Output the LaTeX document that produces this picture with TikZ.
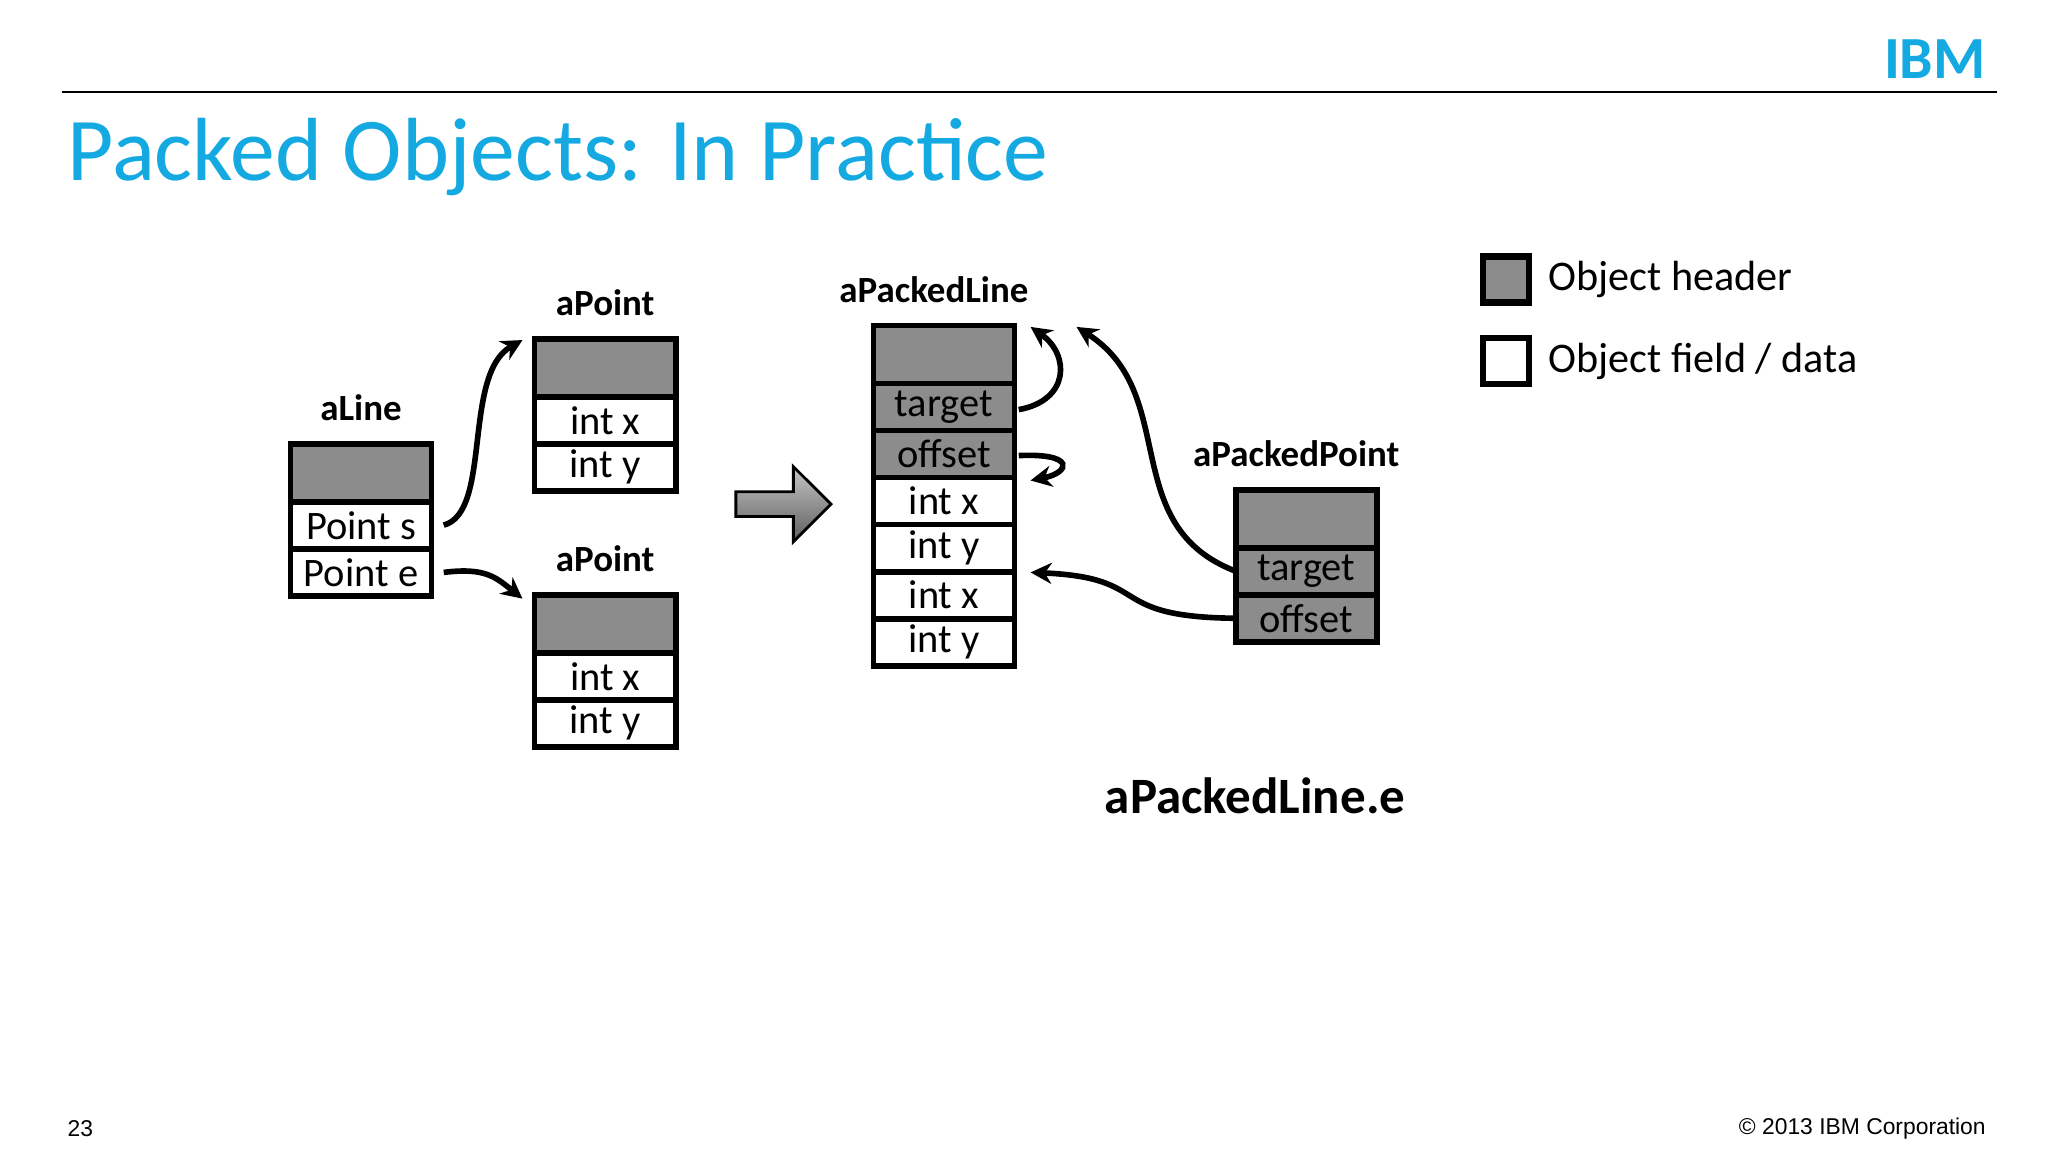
\documentclass[tikz,border=0pt]{standalone}
\usepackage{fontspec}
\setmainfont{Carlito}
\newfontfamily\arialfont{Liberation Sans}
\usetikzlibrary{positioning,arrows.meta,shapes.arrows}
\definecolor{ibmblue}{RGB}{20,170,225}
\definecolor{hdrgray}{RGB}{140,140,140}
\tikzset{
  cell/.style = {draw, line width=1.6pt, minimum width=1.41cm, minimum height=0.47cm,
                 inner sep=0pt, outer sep=0pt, font=\fontsize{11.5}{11.5}\selectfont, anchor=north},
  hdr/.style  = {cell, fill=hdrgray, minimum height=0.58cm},
  gcell/.style = {cell, fill=hdrgray},
  lbl/.style  = {font=\bfseries\fontsize{10.5}{10.5}\selectfont},
  link/.style = {-{Stealth[length=6pt,width=6pt]}, line width=1.6pt},
}
\begin{document}
\begin{tikzpicture}[x=0.013128cm, y=-0.013128cm]
\useasboundingbox (0,0) rectangle (1560,877.5);
\fill[white] (0,0) rectangle (1560,877.5);
% header
\node[anchor=east, text=ibmblue, font=\bfseries\fontsize{17}{17}\selectfont] (ibm) at (1522,45) {IBM};
\draw[line width=0.8pt] (47,70) -- (1521,70);
\node[anchor=west, text=ibmblue, font=\fontsize{25.5}{25.5}\selectfont] (title) at (42,120) {Packed Objects: In Practice};
% aLine
\node[hdr] (lh) at (275,338) {};
\node[cell, below=0pt of lh] (ls) {Point s};
\node[cell, below=0pt of ls] (le) {Point e};
\node[lbl, above=3pt of lh] (lt) {aLine};
% aPoint (top)
\node[hdr] (ph) at (461,258) {};
\node[cell, below=0pt of ph] (px) {int x};
\node[cell, below=0pt of px] (py) {int y};
\node[lbl, above=3pt of ph] (pt) {aPoint};
% aPoint (bottom)
\node[hdr] (qh) at (461,453) {};
\node[cell, below=0pt of qh] (qx) {int x};
\node[cell, below=0pt of qx] (qy) {int y};
\node[lbl, above=3pt of qh] (qt) {aPoint};
% aPackedLine
\node[hdr] (kh) at (719,248) {};
\node[gcell, below=0pt of kh] (kt) {target};
\node[gcell, below=0pt of kt] (ko) {offset};
\node[cell, below=0pt of ko] (kx1) {int x};
\node[cell, below=0pt of kx1] (ky1) {int y};
\node[cell, below=0pt of ky1] (kx2) {int x};
\node[cell, below=0pt of kx2] (ky2) {int y};
\node[lbl, above=3pt of kh, xshift=-0.1cm] (kl) {aPackedLine};
% aPackedPoint
\node[hdr] (mh) at (995,373) {};
\node[gcell, below=0pt of mh] (mt) {target};
\node[gcell, below=0pt of mt] (mo) {offset};
\node[lbl, above=3pt of mh, xshift=-0.1cm] (ml) {aPackedPoint};
% big arrow
\node[single arrow, draw, line width=0.8pt, shade, top color=hdrgray!50, bottom color=hdrgray!140,
      minimum height=0.95cm, minimum width=0.75cm, single arrow head extend=0.1cm,
      inner sep=1pt] (bigarr) at (592,384) {};
% connector ends
\coordinate (ls0) at (338,400);
\coordinate (le0) at (338,436);
\coordinate (pin) at (398,259);
\coordinate (qin) at (398,456);
\coordinate (kt0) at (776,312);
\coordinate (kin) at (785,249);
\coordinate (ko0) at (776,347);
\coordinate (kin2) at (785,366);
\coordinate (kin3) at (820,249);
\coordinate (kin4) at (785,436);
% links
\draw[link] (ls0) .. controls (375,390) and (352,285) .. (pin);
\draw[link] (le0) .. controls (370,432) and (378,440) .. (qin);
\draw[link] (kt0) .. controls (815,305) and (815,270) .. (kin);
\draw[link] (ko0) .. controls (820,345) and (815,360) .. (kin2);
\draw[link] (mt.west) .. controls (850,400) and (900,300) .. (kin3);
\draw[link] (mo.west) .. controls (840,470) and (880,440) .. (kin4);
% legend
\node[draw, line width=1.8pt, fill=hdrgray, minimum size=0.46cm, inner sep=0pt] (legh) at (1147,213) {};
\node[anchor=west, font=\fontsize{12}{12}\selectfont] (leght) at (1170,213) {Object header};
\node[draw, line width=1.8pt, fill=white, minimum size=0.46cm, inner sep=0pt] (legf) at (1147,275) {};
\node[anchor=west, font=\fontsize{12}{12}\selectfont] (legft) at (1170,275) {Object field / data};
% caption and footer
\node[font=\bfseries\fontsize{14.5}{14.5}\selectfont] (cap) at (956,606) {aPackedLine.e};
\node[anchor=west, font=\arialfont\fontsize{6.5}{6.5}\selectfont] (pg) at (42,860) {23};
\node[anchor=east, font=\arialfont\fontsize{6.5}{6.5}\selectfont] (copy) at (1522,860) {\textcopyright{} 2013 IBM Corporation};
\end{tikzpicture}
\end{document}
